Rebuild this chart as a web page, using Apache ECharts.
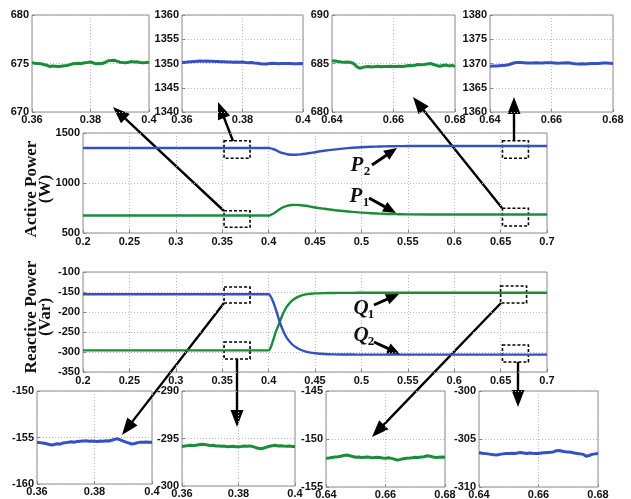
<!DOCTYPE html>
<html>
<head>
<meta charset="utf-8">
<script src="https://cdn.jsdelivr.net/npm/echarts@6/dist/echarts.min.js"></script>
<style>
  html, body { margin: 0; padding: 0; background: #fff; }
  #chart { width: 631px; height: 499px; }
</style>
</head>
<body>
<div id="chart"></div>
<script>
// ---- time bases ----
const tMain = [0.2, 0.25, 0.3, 0.35, 0.4, 0.402, 0.405, 0.408, 0.41, 0.412, 0.415, 0.418, 0.42, 0.425, 0.43, 0.435, 0.44, 0.445, 0.45, 0.46, 0.47, 0.48, 0.49, 0.5, 0.51, 0.52, 0.53, 0.54, 0.55, 0.6, 0.65, 0.7];
const tLeft = [0.360, 0.361, 0.362, 0.363, 0.364, 0.365, 0.366, 0.367, 0.368, 0.369, 0.370, 0.371, 0.372, 0.373, 0.374, 0.375, 0.376, 0.377, 0.378, 0.379, 0.380, 0.381, 0.382, 0.383, 0.384, 0.385, 0.386, 0.387, 0.388, 0.389, 0.390, 0.391, 0.392, 0.393, 0.394, 0.395, 0.396, 0.397, 0.398, 0.399, 0.400];
const tRight = [0.640, 0.641, 0.642, 0.643, 0.644, 0.645, 0.646, 0.647, 0.648, 0.649, 0.650, 0.651, 0.652, 0.653, 0.654, 0.655, 0.656, 0.657, 0.658, 0.659, 0.660, 0.661, 0.662, 0.663, 0.664, 0.665, 0.666, 0.667, 0.668, 0.669, 0.670, 0.671, 0.672, 0.673, 0.674, 0.675, 0.676, 0.677, 0.678, 0.679, 0.680];

// ---- active power (W) ----
const p2Main = [1350, 1350, 1350, 1350, 1350, 1347, 1340, 1328, 1318, 1309, 1300, 1293, 1288, 1283, 1283, 1287, 1293, 1300, 1308, 1322, 1334, 1344, 1352, 1358, 1362, 1365, 1367, 1368.5, 1369.5, 1370, 1370, 1370];
const p1Main = [675, 675, 675, 675, 675, 680, 692, 712, 725, 738, 755, 766, 772, 780, 781, 778, 772, 764, 755, 742, 730, 720, 711, 704, 698, 694, 690, 688, 686.5, 685, 685, 685];

// ---- reactive power (Var) ----
const q1Main = [-296, -296, -296, -296, -296, -290, -270, -248, -237, -225, -207, -193, -185, -172, -164, -159, -156, -154.5, -153.5, -152.8, -152.4, -152.2, -152.1, -152, -152, -152, -152, -152, -152, -152, -152, -152];
const q2Main = [-155.5, -155.5, -155.5, -155.5, -155.5, -160, -175, -195, -210, -225, -243, -258, -266, -280, -289, -295, -299, -301.5, -303, -305, -306, -306.3, -306.4, -306.5, -306.5, -306.5, -306.5, -306.5, -306.5, -306.5, -306.5, -306.5];

// ---- zoomed traces ----
const p1ZoomL = [675.07, 675.03, 675.0, 674.97, 674.9, 674.82, 674.7, 674.74, 674.72, 674.68, 674.72, 674.76, 674.8, 674.88, 674.97, 675.0, 675.03, 675.0, 675.07, 675.1, 675.17, 675.05, 674.97, 675.0, 675.0, 675.1, 675.28, 675.3, 675.34, 675.25, 675.14, 675.1, 675.07, 675.12, 675.2, 675.15, 675.17, 675.1, 675.07, 675.1, 675.14];
const p2ZoomL = [1350.2, 1350.25, 1350.3, 1350.35, 1350.4, 1350.45, 1350.5, 1350.45, 1350.5, 1350.48, 1350.45, 1350.4, 1350.42, 1350.38, 1350.35, 1350.3, 1350.32, 1350.28, 1350.3, 1350.25, 1350.3, 1350.22, 1350.15, 1350.2, 1350.1, 1350.05, 1349.95, 1349.9, 1349.92, 1350.0, 1350.05, 1350.0, 1349.95, 1350.0, 1350.02, 1349.98, 1350.0, 1349.95, 1349.97, 1350.0, 1349.95];
const p1ZoomR = [685.28, 685.25, 685.2, 685.16, 685.14, 685.15, 685.12, 685.0, 684.7, 684.5, 684.6, 684.66, 684.7, 684.65, 684.68, 684.72, 684.66, 684.7, 684.68, 684.72, 684.7, 684.68, 684.72, 684.7, 684.75, 684.8, 684.78, 684.82, 684.9, 684.86, 684.9, 684.95, 685.0, 684.9, 684.8, 684.72, 684.8, 684.85, 684.75, 684.8, 684.7];
const p2ZoomR = [1369.45, 1369.5, 1369.48, 1369.55, 1369.6, 1369.62, 1369.75, 1369.95, 1370.15, 1370.2, 1370.2, 1370.15, 1370.1, 1370.12, 1370.1, 1370.15, 1370.12, 1370.1, 1370.15, 1370.18, 1370.15, 1370.1, 1370.05, 1370.08, 1370.12, 1370.15, 1370.1, 1370.0, 1369.95, 1369.92, 1369.95, 1369.9, 1369.95, 1370.0, 1370.02, 1369.98, 1370.05, 1370.1, 1370.08, 1370.05, 1370.02];
const q2ZoomL = [-155.5, -155.55, -155.6, -155.65, -155.72, -155.8, -155.75, -155.68, -155.72, -155.6, -155.55, -155.5, -155.45, -155.5, -155.43, -155.4, -155.38, -155.36, -155.4, -155.38, -155.4, -155.42, -155.38, -155.4, -155.36, -155.38, -155.3, -155.2, -155.14, -155.25, -155.38, -155.5, -155.6, -155.7, -155.65, -155.55, -155.5, -155.52, -155.48, -155.5, -155.5];
const q1ZoomL = [-295.84, -295.8, -295.75, -295.72, -295.75, -295.7, -295.65, -295.6, -295.62, -295.68, -295.75, -295.72, -295.78, -295.8, -295.82, -295.8, -295.86, -295.84, -295.82, -295.86, -295.87, -295.84, -295.8, -295.82, -295.78, -295.85, -295.94, -296.02, -296.08, -296.0, -295.9, -295.82, -295.76, -295.72, -295.78, -295.76, -295.8, -295.82, -295.8, -295.84, -295.84];
const q1ZoomR = [-152.0, -151.98, -151.92, -151.88, -151.85, -151.8, -151.72, -151.67, -151.75, -151.82, -151.9, -151.88, -151.92, -151.9, -151.88, -151.92, -151.95, -151.9, -151.92, -151.98, -152.0, -151.95, -152.02, -152.1, -152.2, -152.12, -152.05, -152.0, -151.98, -151.95, -151.9, -151.92, -151.88, -151.85, -151.74, -151.8, -151.88, -151.92, -151.9, -151.88, -151.9];
const q2ZoomR = [-306.4, -306.48, -306.52, -306.55, -306.6, -306.65, -306.67, -306.6, -306.55, -306.5, -306.52, -306.48, -306.5, -306.45, -306.4, -306.45, -306.5, -306.45, -306.48, -306.5, -306.5, -306.45, -306.42, -306.4, -306.38, -306.35, -306.22, -306.2, -306.28, -306.32, -306.35, -306.38, -306.45, -306.5, -306.55, -306.6, -306.8, -306.72, -306.6, -306.55, -306.52];

// ---- dashed zoom windows, in data units: [x0, x1, y0, y1] ----
const activeWindows = [[0.352, 0.38, 1247, 1423], [0.352, 0.38, 557, 723], [0.652, 0.68, 1247, 1423], [0.652, 0.68, 570, 747]];
const reactiveWindows = [[0.352, 0.38, -177.5, -137.5], [0.352, 0.38, -317.5, -275], [0.650, 0.678, -177.5, -135], [0.652, 0.68, -325, -282.5]];

const BLUE = '#3550c2';
const GREEN = '#1b8c3a';
const SANS = 'Liberation Sans, Arial, sans-serif';
const SERIF = 'Liberation Serif, Times New Roman, serif';

const pairs = (t, v) => t.map((x, i) => [x, v[i]]);

// panel layout: [left, top, width, height, xmin, xmax, xint, ymin, ymax, yint]
const panels = [
  [83, 133, 464, 100, 0.2, 0.7, 0.05, 500, 1500, 500],
  [83, 272, 464, 100, 0.2, 0.7, 0.05, -350, -100, 50],
  [32, 15, 117, 97, 0.36, 0.4, 0.02, 670, 680, 5],
  [182, 15, 121, 97, 0.36, 0.4, 0.02, 1340, 1360, 5],
  [332, 15, 123, 97, 0.64, 0.68, 0.02, 680, 690, 5],
  [490, 15, 123, 97, 0.64, 0.68, 0.02, 1360, 1380, 5],
  [37, 391, 115, 93, 0.36, 0.4, 0.02, -160, -150, 5],
  [182, 391, 113, 95, 0.36, 0.4, 0.02, -300, -290, 5],
  [326, 391, 119, 96, 0.64, 0.68, 0.02, -155, -145, 5],
  [479, 391, 119, 96, 0.64, 0.68, 0.02, -310, -300, 5]
];

const tickText = v => String(Math.round(v * 10000) / 10000);
const labelStyle = (margin) => ({
  margin: margin, color: '#111', fontWeight: 'bold', fontSize: 11, fontFamily: SANS,
  showMinLabel: true, showMaxLabel: true, formatter: tickText
});
const splitStyle = { show: true, lineStyle: { type: [1, 2], color: '#b8b8b8', width: 1 } };
const tickStyle = { show: true, inside: true, length: 3, lineStyle: { color: '#888' } };

const grids = panels.map(p => ({
  left: p[0], top: p[1], width: p[2], height: p[3],
  show: true, borderColor: '#8c8c8c', borderWidth: 1, backgroundColor: 'transparent',
  containLabel: false, outerBoundsMode: 'none'
}));
const xAxes = panels.map((p, i) => ({
  type: 'value', gridIndex: i, min: p[4], max: p[5], interval: p[6],
  axisLine: { show: false }, axisTick: tickStyle, splitLine: splitStyle,
  axisLabel: labelStyle(i < 2 ? 3 : 2)
}));
const yAxes = panels.map((p, i) => ({
  type: 'value', gridIndex: i, min: p[7], max: p[8], interval: p[9],
  axisLine: { show: false }, axisTick: tickStyle, splitLine: splitStyle,
  axisLabel: labelStyle(3)
}));

const windowArea = (wins) => ({
  silent: true,
  label: { show: false },
  itemStyle: { color: 'rgba(0,0,0,0)', borderColor: '#000', borderWidth: 1.6, borderType: [3, 2] },
  data: wins.map(w => [{ coord: [w[0], w[3]] }, { coord: [w[1], w[2]] }])
});

const line = (idx, data, color, width, extra) => Object.assign({
  type: 'line', xAxisIndex: idx, yAxisIndex: idx, data: data,
  showSymbol: false, symbol: 'none', animation: false,
  lineStyle: { color: color, width: width }, z: 3
}, extra || {});

const series = [
  line(0, pairs(tMain, p2Main), BLUE, 2.4, { smooth: 0.3 }),
  line(0, pairs(tMain, p1Main), GREEN, 2.4, { smooth: 0.3, markArea: windowArea(activeWindows) }),
  line(1, pairs(tMain, q1Main), GREEN, 2.4, { smooth: 0.3 }),
  line(1, pairs(tMain, q2Main), BLUE, 2.4, { smooth: 0.3, markArea: windowArea(reactiveWindows) }),
  line(2, pairs(tLeft, p1ZoomL), GREEN, 3),
  line(3, pairs(tLeft, p2ZoomL), BLUE, 3),
  line(4, pairs(tRight, p1ZoomR), GREEN, 3),
  line(5, pairs(tRight, p2ZoomR), BLUE, 3),
  line(6, pairs(tLeft, q2ZoomL), BLUE, 3),
  line(7, pairs(tLeft, q1ZoomL), GREEN, 3),
  line(8, pairs(tRight, q1ZoomR), GREEN, 3),
  line(9, pairs(tRight, q2ZoomR), BLUE, 3)
];

// arrow: shaft plus filled triangular head, tip at (x2, y2)
function arrow(x1, y1, x2, y2, headLen, headW, lw) {
  const dx = x2 - x1, dy = y2 - y1, len = Math.hypot(dx, dy);
  const ux = dx / len, uy = dy / len, nx = -uy, ny = ux;
  const bx = x2 - ux * headLen, by = y2 - uy * headLen;
  return {
    type: 'group', z: 50, silent: true,
    children: [
      { type: 'line', shape: { x1: x1, y1: y1, x2: bx + ux * 2, y2: by + uy * 2 },
        style: { stroke: '#000', lineWidth: lw } },
      { type: 'polygon', shape: { points: [[x2, y2], [bx + nx * headW / 2, by + ny * headW / 2], [bx - nx * headW / 2, by - ny * headW / 2]] },
        style: { fill: '#000' } }
    ]
  };
}

// callout arrows from the dashed windows to the zoomed panels
const calloutArrows = [
  [224, 211, 113, 107], [233, 141, 218, 102], [502, 208, 413, 97], [514, 141, 514, 97],
  [224, 303, 122, 435], [237, 359, 237, 427], [501, 303, 372, 437], [518, 362, 518, 407]
];
// short arrows from the series names to their curves
const nameArrows = [
  [372, 165, 397, 148], [369, 198, 396, 213], [374, 305, 399, 294], [374, 342, 400, 354]
];
// series names: [main letter, subscript, x, y]
const names = [['P', '2', 357, 166], ['P', '1', 356, 197], ['Q', '1', 361, 309], ['Q', '2', 361, 336]];

const graphics = [];
calloutArrows.forEach(a => graphics.push(arrow(a[0], a[1], a[2], a[3], 17, 13, 2.4)));
nameArrows.forEach(a => graphics.push(arrow(a[0], a[1], a[2], a[3], 13, 11, 3)));
names.forEach(n => {
  graphics.push({ type: 'text', x: n[2], y: n[3], z: 60, silent: true,
    style: { text: n[0], fill: '#111', font: 'italic bold 21px ' + SERIF, align: 'center', verticalAlign: 'middle' } });
  graphics.push({ type: 'text', x: n[2] + 10, y: n[3] + 6, z: 60, silent: true,
    style: { text: n[1], fill: '#111', font: 'bold 13px ' + SERIF, align: 'center', verticalAlign: 'middle' } });
});
// y-axis titles
graphics.push({ type: 'text', x: 39, y: 189, rotation: Math.PI / 2, z: 60, silent: true,
  style: { text: 'Active Power\n(W)', fill: '#111', font: 'bold 17px ' + SERIF, lineHeight: 14, align: 'center', verticalAlign: 'middle' } });
graphics.push({ type: 'text', x: 39, y: 317, rotation: Math.PI / 2, z: 60, silent: true,
  style: { text: 'Reactive Power\n(Var)', fill: '#111', font: 'bold 17px ' + SERIF, lineHeight: 14, align: 'center', verticalAlign: 'middle' } });

const chart = echarts.init(document.getElementById('chart'), null, { renderer: 'canvas' });
chart.setOption({
  animation: false,
  backgroundColor: '#fff',
  grid: grids,
  xAxis: xAxes,
  yAxis: yAxes,
  series: series,
  graphic: graphics
});
</script>
</body>
</html>
